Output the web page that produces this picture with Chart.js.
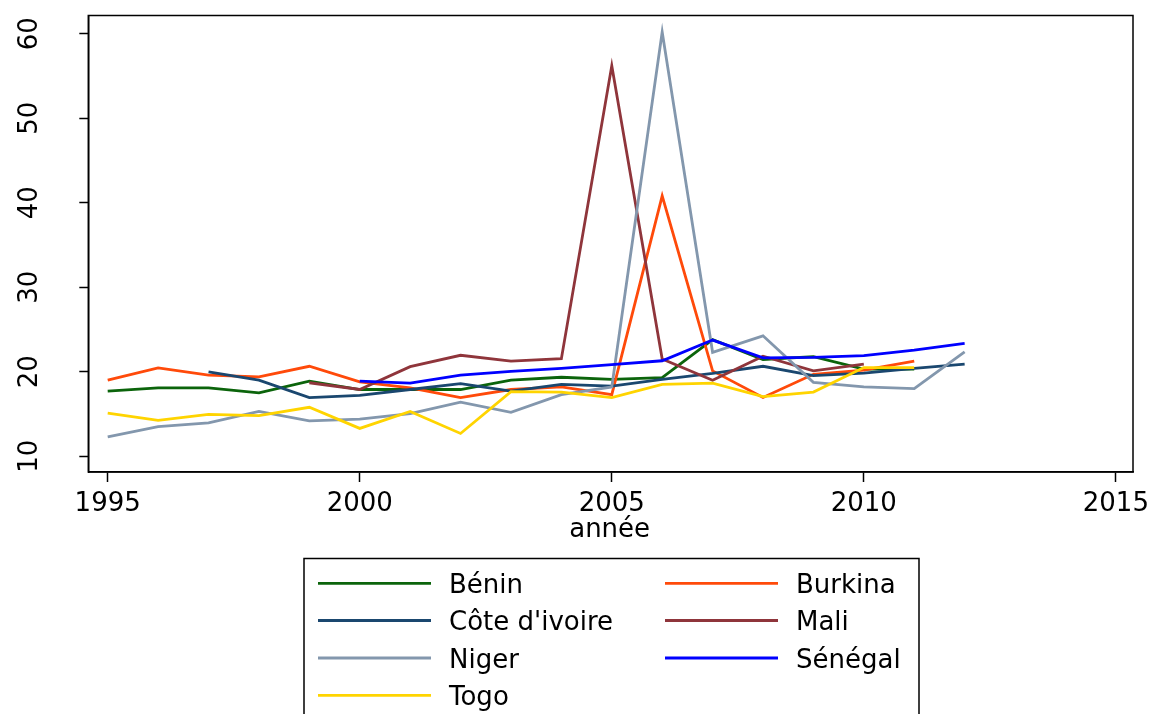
<!DOCTYPE html>
<html>
<head>
<meta charset="utf-8">
<script src="https://cdn.jsdelivr.net/npm/chart.js@4/dist/chart.umd.min.js"></script>
<style>
html,body{margin:0;padding:0;background:#fff;}
canvas{display:block;}
</style>
</head>
<body>
<canvas id="c" width="1151" height="714"></canvas>
<script>
const years = [1995,1996,1997,1998,1999,2000,2001,2002,2003,2004,2005,2006,2007,2008,2009,2010,2011,2012];
const benin   = [17.7,18.1,18.1,17.5,18.9,17.9,17.9,17.9,19.0,19.35,19.1,19.3,23.8,21.45,21.8,20.3,20.3,null];
const burkina = [19.0,20.45,19.6,19.4,20.65,18.8,18.1,16.95,17.9,18.2,17.3,40.8,20.1,16.95,19.7,20.2,21.25,null];
const coteIvoire = [null,null,20.0,19.0,16.95,17.2,17.9,18.6,17.7,18.5,18.3,19.1,19.8,20.65,19.55,19.85,20.4,20.9];
const mali    = [null,null,null,null,18.7,17.9,20.6,21.95,21.25,21.55,56.2,21.5,19.0,21.85,20.1,20.9,null,null];
const niger   = [12.3,13.5,13.95,15.3,14.2,14.4,15.05,16.4,15.2,17.3,18.2,60.2,22.3,24.25,18.75,18.2,18.0,22.35];
const senegal = [null,null,null,null,null,18.9,18.65,19.6,20.05,20.4,20.85,21.3,23.75,21.65,21.7,21.9,22.55,23.35];
const togo    = [15.1,14.25,14.95,14.8,15.8,13.3,15.3,12.7,17.65,17.6,16.95,18.5,18.65,17.05,17.6,20.5,20.5,null];

const seriesNames = ["Bénin","Burkina","Côte d'ivoire","Mali","Niger","Sénégal","Togo"];
const seriesValues = [benin, burkina, coteIvoire, mali, niger, senegal, togo];
const seriesColors = ["#0b640b","#ff4a0a","#1a476f","#8f353b","#8397ad","#0000ff","#ffd400"];
const xTicks = [1995,2000,2005,2010,2015];
const yTicks = [10,20,30,40,50,60];
const xTitle = "année";

const FONT = "'DejaVu Sans', Verdana, sans-serif";
const FSIZE = 26;

const datasets = seriesNames.map((name, i) => ({
  label: name,
  data: years.map((yr, j) => ({x: yr, y: seriesValues[i][j]})),
  borderColor: seriesColors[i],
  backgroundColor: seriesColors[i],
  borderWidth: 2.8,
  pointRadius: 0,
  tension: 0,
  fill: false,
  spanGaps: false,
  order: seriesNames.length - 1 - i
}));

const decor = {
  id: 'decor',
  afterDraw(chart) {
    const ctx = chart.ctx;
    const a = chart.chartArea;
    ctx.save();
    // frame
    ctx.strokeStyle = '#000';
    ctx.lineWidth = 1.5;
    ctx.strokeRect(a.left, a.top, a.right - a.left, a.bottom - a.top);
    // y tick labels (rotated)
    const ys = chart.scales.y;
    ctx.fillStyle = '#000';
    ctx.font = FSIZE + 'px ' + FONT;
    ctx.textAlign = 'center';
    ctx.textBaseline = 'alphabetic';
    yTicks.forEach(v => {
      const py = ys.getPixelForValue(v);
      ctx.save();
      ctx.translate(37, py);
      ctx.rotate(-Math.PI / 2);
      ctx.fillText(String(v), 0, 0);
      ctx.restore();
    });
    // x axis title
    ctx.textAlign = 'center';
    ctx.fillText(xTitle, (a.left + a.right) / 2 - 1, 537);
    // legend
    const lx = 304, ly = 558.5, lw = 615;
    ctx.lineWidth = 1.5;
    ctx.strokeStyle = '#000';
    ctx.beginPath();
    ctx.moveTo(lx, 720);
    ctx.lineTo(lx, ly);
    ctx.lineTo(lx + lw, ly);
    ctx.lineTo(lx + lw, 720);
    ctx.stroke();
    const colLine = [[318, 431], [665, 778]];
    const colText = [449, 796];
    const rowY = [583.3, 620.5, 658, 695.3];
    ctx.textAlign = 'left';
    chart.data.datasets.forEach((ds, i) => {
      const c = i % 2, r = Math.floor(i / 2);
      const y = rowY[r];
      ctx.strokeStyle = ds.borderColor;
      ctx.lineWidth = 2.8;
      ctx.beginPath();
      ctx.moveTo(colLine[c][0], y);
      ctx.lineTo(colLine[c][1], y);
      ctx.stroke();
      ctx.fillStyle = '#000';
      ctx.fillText(ds.label, colText[c], y + 9.5);
    });
    ctx.restore();
  }
};

new Chart(document.getElementById('c'), {
  type: 'line',
  data: { datasets },
  plugins: [decor],
  options: {
    responsive: false,
    animation: false,
    events: [],
    layout: { padding: { top: 15.5, right: 18, bottom: 167, left: 0 } },
    plugins: { legend: { display: false }, tooltip: { enabled: false } },
    scales: {
      x: {
        type: 'linear',
        min: 1994.615,
        max: 2015.34,
        afterBuildTicks: s => { s.ticks = xTicks.map(v => ({ value: v })); },
        afterFit: s => { s.height = 75; s.paddingLeft = 0; s.paddingRight = 0; },
        grid: { drawOnChartArea: false, drawTicks: true, tickLength: 10, tickColor: '#000', tickWidth: 1.5, color: '#000' },
        border: { display: true, color: '#000', width: 1.5 },
        ticks: { color: '#000', font: { family: FONT, size: FSIZE }, padding: 6.5, maxRotation: 0, minRotation: 0, callback: v => String(v) }
      },
      y: {
        type: 'linear',
        min: 8.14,
        max: 62.15,
        afterBuildTicks: s => { s.ticks = yTicks.map(v => ({ value: v })); },
        afterFit: s => { s.width = 88.3; s.paddingTop = 0; s.paddingBottom = 0; },
        grid: { drawOnChartArea: false, drawTicks: true, tickLength: 9, tickColor: '#000', tickWidth: 1.5, color: '#000' },
        border: { display: true, color: '#000', width: 1.5 },
        ticks: { display: false }
      }
    }
  }
});
</script>
</body>
</html>
